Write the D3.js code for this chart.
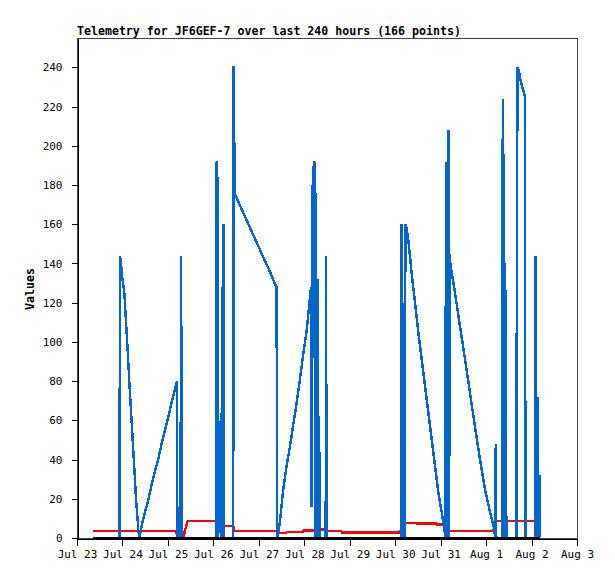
<!DOCTYPE html>
<html>
<head>
<meta charset="utf-8">
<script src="https://cdn.jsdelivr.net/npm/d3@7"></script>
<style>
  body { margin: 0; background: #fff; }
  .tick text { font-family: "DejaVu Sans Mono", monospace; font-size: 11px; fill: #000; }
</style>
</head>
<body>
<div id="chart"></div>
<script>
// hours since Jul 23 00:00 for each sample
const startDate = new Date(2023, 6, 23);

const blueHours = [8.4, 22.4, 22.7, 23.2, 24.0, 25.0, 25.9, 26.8, 27.6, 28.5, 29.4, 30.3, 31.2, 31.8, 32.4, 32.9,
  34.8, 37.5, 40.1, 42.8, 45.4, 48.0, 50.7, 52.8, 52.9, 53.3, 53.7, 54.3, 54.6, 55.0, 55.3,
  73.4, 73.6, 74.1, 74.4, 75.7, 75.9, 76.2, 76.7, 77.0, 77.4, 77.7,
  82.5, 82.7, 83.3, 85.4, 87.5, 89.6, 91.7, 93.8, 95.9, 98.0, 100.1, 102.2, 104.3, 105.4, 105.6,
  105.9, 107.2, 108.9, 110.7, 112.5, 114.2, 116.0, 117.7, 119.5, 121.3, 122.5, 123.6,
  123.9, 124.3, 124.6, 125.0, 125.3, 125.7, 126.2, 126.7, 127.2, 127.6, 128.0, 128.4,
  131.3, 131.5, 131.8,
  171.2, 171.4, 171.8, 172.0, 172.4, 172.7, 173.1, 173.4, 174.1, 174.9, 175.8, 176.7, 178.5, 180.2,
  182.0, 183.7, 185.5, 187.3, 189.0, 190.8, 192.6, 193.9, 194.5,
  194.8, 195.2, 195.5, 195.8, 196.2, 196.5, 196.8, 197.1, 199.6, 202.2, 204.9, 207.5, 210.1, 212.8,
  215.4, 218.1, 220.4, 220.7, 221.1, 221.4,
  224.6, 224.8, 225.1, 225.4, 225.8, 226.1, 226.5, 226.8,
  232.0, 232.2, 232.6, 233.4, 233.9, 234.8, 235.7, 236.5, 236.8,
  242.0, 242.2, 242.6, 243.1, 243.4, 243.7, 244.1, 244.4];
const blueValues = [0, 0, 144, 140, 132, 125, 110, 95, 80, 65, 50, 35, 19, 12, 4, 0,
  9, 19, 30, 40, 51, 61, 72, 80, 0, 16, 0, 8, 0, 144, 0,
  0, 192, 184, 0, 16, 64, 0, 128, 0, 160, 0,
  0, 240.5, 175.5, 171, 166.5, 162, 157.5, 153, 148.5, 144, 139.5, 135, 130, 128, 0,
  0, 9, 25, 37, 47, 58, 69, 81, 94, 106, 118, 128,
  16, 178, 182, 190, 192, 0, 176, 0, 132, 0, 44, 0,
  0, 144, 0,
  0, 160, 0, 120, 0, 80, 0, 160, 158, 152, 144, 135, 120, 105,
  91, 78, 64, 50, 37, 23, 13, 5, 0,
  192, 0, 192, 0, 208, 0, 145, 140, 125, 108, 91, 74, 57, 40,
  25, 13, 4, 0, 48, 0,
  0, 224, 0, 196, 84, 140, 28, 0,
  0, 120, 240, 238, 235, 231, 228, 225, 0,
  0, 144, 0, 72, 0, 16, 0, 32];

const redHours = [8.4, 52.4, 53.0, 56.2, 56.8, 57.6, 58.5, 74.2, 74.6, 82.5, 82.9, 105.4, 105.8, 110.5, 110.8,
  119.3, 119.6, 128.3, 128.6, 131.7, 132.0, 139.6, 139.9, 170.5, 171.3, 173.7, 179.0, 179.3,
  189.8, 190.1, 193.8, 194.3, 219.8, 221.6, 244.2, 244.4];
const redValues = [3.7, 3.7, 0, 0, 3, 6, 8.8, 8.8, 6.1, 6.1, 3.7, 3.7, 2.7, 2.7, 3.2,
  3.2, 3.9, 3.9, 4.4, 4.4, 3.5, 3.5, 2.9, 2.9, 5, 7.8, 7.8, 7.3,
  7.3, 6.8, 6.8, 3.7, 3.7, 8.8, 8.8, 4];

const blackHours = [8.4, 244.4];
const blackValues = [0, 0];

const yTicks = [0, 20, 40, 60, 80, 100, 120, 140, 160, 180, 200, 220, 240];
const dayLabels = ['Jul 23', 'Jul 24', 'Jul 25', 'Jul 26', 'Jul 27', 'Jul 28', 'Jul 29',
  'Jul 30', 'Jul 31', 'Aug 1', 'Aug 2', 'Aug 3'];

const width = 615;
const height = 579;
const plotLeft = 77, plotTop = 38, plotRight = 577, plotBottom = 538;

const toDate = h => new Date(startDate.getTime() + h * 3600 * 1000);
const pts = (hs, vs) => hs.map((h, i) => ({ t: toDate(h), v: vs[i] }));

const svg = d3.select('#chart').append('svg')
  .attr('width', width)
  .attr('height', height);

const x = d3.scaleTime()
  .domain([startDate, d3.timeDay.offset(startDate, 11)])
  .range([plotLeft, plotRight]);
const y = d3.scaleLinear().domain([0, 255]).range([plotBottom, plotTop]);

// frame (top and right)
svg.append('rect')
  .attr('x', plotLeft + 0.5).attr('y', plotTop + 0.5)
  .attr('width', plotRight - plotLeft).attr('height', plotBottom - plotTop)
  .attr('fill', 'none').attr('stroke', '#444');

const line = d3.line().x(d => x(d.t)).y(d => y(d.v));

function drawSeries(data, color) {
  svg.append('path')
    .datum(data)
    .attr('d', line)
    .attr('fill', 'none')
    .attr('stroke', color)
    .attr('stroke-width', 2.4)
    .attr('stroke-linejoin', 'miter')
    .attr('shape-rendering', 'crispEdges');
}

drawSeries(pts(redHours, redValues), '#ff0000');
drawSeries(pts(blueHours, blueValues), '#0066cc');
drawSeries(pts(blackHours, blackValues), '#000000');

// axes
const dayTicks = d3.range(12).map(i => d3.timeDay.offset(startDate, i));
svg.append('g')
  .attr('transform', `translate(0,${plotBottom + 0.5})`)
  .call(d3.axisBottom(x).tickValues(dayTicks).tickFormat((d, i) => dayLabels[i])
    .tickSize(7).tickPadding(5).tickSizeOuter(0))
  .call(g => g.selectAll('line, path').attr('stroke', '#000').attr('shape-rendering', 'crispEdges'));

svg.append('g')
  .attr('transform', `translate(${plotLeft + 0.5},0)`)
  .call(d3.axisLeft(y).tickValues(yTicks).tickSize(6).tickPadding(9).tickSizeOuter(0))
  .call(g => g.selectAll('line, path').attr('stroke', '#000').attr('shape-rendering', 'crispEdges'));

// title and axis label
svg.append('text')
  .attr('x', plotLeft)
  .attr('y', 35)
  .attr('font-family', '"DejaVu Sans Mono", monospace')
  .attr('font-weight', 'bold')
  .attr('font-size', '11.6px')
  .text('Telemetry for JF6GEF-7 over last 240 hours (166 points)');

svg.append('text')
  .attr('transform', 'translate(34,289) rotate(-90)')
  .attr('text-anchor', 'middle')
  .attr('font-family', '"DejaVu Sans Mono", monospace')
  .attr('font-weight', 'bold')
  .attr('font-size', '11.6px')
  .text('Values');
</script>
</body>
</html>
